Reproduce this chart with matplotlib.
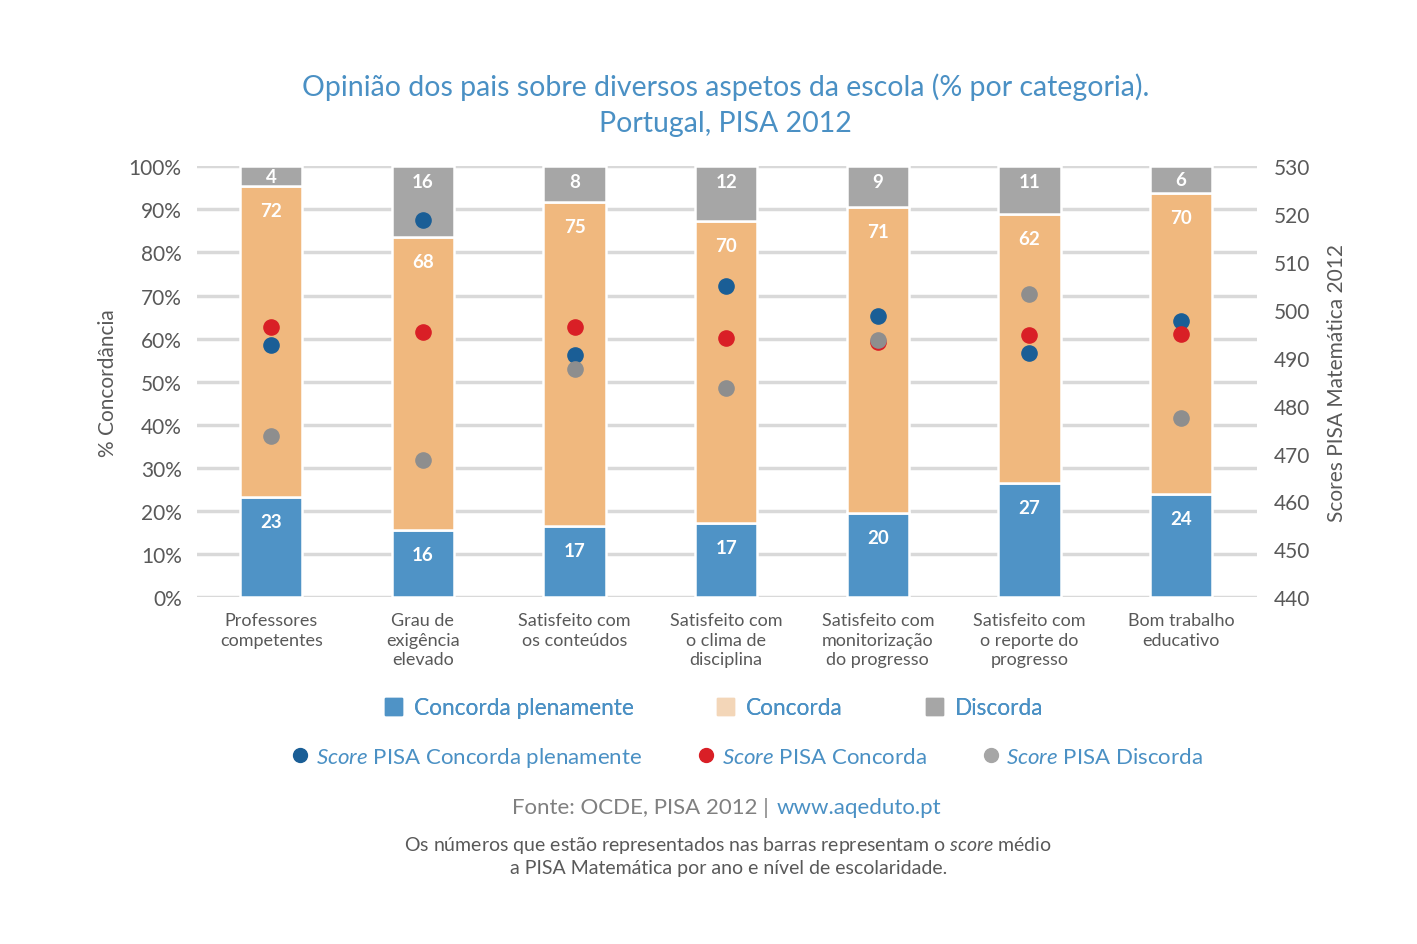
import matplotlib.pyplot as plt
from matplotlib.lines import Line2D
from matplotlib.patches import Patch
import numpy as np

plt.rcParams['font.family'] = ['Lato', 'DejaVu Sans']
plt.rcParams['mathtext.fontset'] = 'custom'
plt.rcParams['mathtext.rm'] = 'Lato'
plt.rcParams['mathtext.it'] = 'Lato:italic'

# dados
categorias = ['Professores\ncompetentes', 'Grau de\nexigência\nelevado', 'Satisfeito com\nos conteúdos',
              'Satisfeito com\no clima de\ndisciplina', 'Satisfeito com\nmonitorização\ndo progresso',
              'Satisfeito com\no reporte do\nprogresso', 'Bom trabalho\neducativo']
concorda_plen = [23.2, 15.5, 16.5, 17.2, 19.5, 26.5, 23.9]
concorda = [72.2, 68.0, 75.1, 70.0, 71.0, 62.4, 69.8]
discorda = [4.6, 16.5, 8.4, 12.8, 9.5, 11.1, 6.3]
lab_plen = ['23', '16', '17', '17', '20', '27', '24']
lab_conc = ['72', '68', '75', '70', '71', '62', '70']
lab_disc = ['4', '16', '8', '12', '9', '11', '6']
score_plen = [492.6, 518.7, 490.5, 504.9, 498.7, 490.9, 497.6]
score_conc = [496.4, 495.3, 496.4, 494.1, 493.4, 494.7, 494.9]
score_disc = [473.6, 468.6, 487.6, 483.6, 493.7, 503.3, 477.4]

c_azul = '#4F93C6'
c_lar = '#F0B87E'
c_cinza = '#A6A6A6'
c_txt = '#595959'
c_tit = '#4A90C4'

fig = plt.figure(figsize=(14.17, 9.45), dpi=100)
ax = fig.add_axes([0.139, 0.367, 0.748, 0.456])
x = np.arange(len(categorias))
w = 0.41

b1 = ax.bar(x, concorda_plen, w, color=c_azul, edgecolor='white', linewidth=1.8, zorder=2)
b2 = ax.bar(x, concorda, w, bottom=concorda_plen, color=c_lar, edgecolor='white', linewidth=1.8, zorder=2)
base3 = np.array(concorda_plen) + np.array(concorda)
b3 = ax.bar(x, discorda, w, bottom=base3, color=c_cinza, edgecolor='white', linewidth=1.8, zorder=2)

for i in range(len(x)):
    ax.text(x[i], concorda_plen[i] - 5.6, lab_plen[i], ha='center', va='center',
            color='white', fontsize=13.5, fontweight='bold', zorder=3)
    ax.text(x[i], base3[i] - 5.6, lab_conc[i], ha='center', va='center',
            color='white', fontsize=13.5, fontweight='bold', zorder=3)
    topo = base3[i] + discorda[i]
    yy = max(base3[i] + discorda[i] / 2, topo - 3.5)
    ax.text(x[i], yy, lab_disc[i], ha='center', va='center',
            color='white', fontsize=13.5, fontweight='bold', zorder=3)

ax.set_xlim(-0.49, 6.5)
ax.set_ylim(0, 100)
ax.set_yticks(range(0, 101, 10))
ax.set_yticklabels([f'{v}%' for v in range(0, 101, 10)])
ax.set_xticks(x)
ax.set_xticklabels(categorias, fontsize=13, color=c_txt, linespacing=1.25)
ax.tick_params(axis='x', length=0, pad=11)
ax.tick_params(axis='y', length=0, pad=11, labelsize=15, labelcolor=c_txt)
ax.grid(axis='y', color='#D9D9D9', linewidth=2.5, zorder=0)
ax.set_axisbelow(True)
for s in ax.spines.values():
    s.set_visible(False)
ax.set_ylabel('% Concordância', fontsize=15, color=c_txt, labelpad=8)

ax2 = ax.twinx()
ax2.set_ylim(440, 530)
ax2.set_yticks(range(440, 531, 10))
ax2.tick_params(axis='y', length=0, pad=12, labelsize=15, labelcolor=c_txt)
for s in ax2.spines.values():
    s.set_visible(False)
ax2.set_ylabel('Scores PISA Matemática 2012', fontsize=15, color=c_txt, labelpad=12)
ax2.scatter(x, score_plen, s=120, color='#1A5E96', zorder=4)
ax2.scatter(x, score_conc, s=120, color='#D91F26', zorder=4)
ax2.scatter(x, score_disc, s=120, color='#8E8E8E', zorder=4)

fig.text(0.512, 1 - 105 / 945, 'Opinião dos pais sobre diversos aspetos da escola (% por categoria).\nPortugal, PISA 2012',
         ha='center', va='center', fontsize=20.5, color=c_tit, linespacing=1.5)

h1 = [Patch(color=c_azul), Patch(color='#F3D6B8'), Patch(color=c_cinza)]
l1 = ['Concorda plenamente', 'Concorda', 'Discorda']
leg1 = fig.legend(h1, l1, loc='center', bbox_to_anchor=(0.504, 0.250), ncol=3, frameon=False,
                  fontsize=16.3, labelcolor=c_tit, handlelength=0.75, handleheight=0.75,
                  handletextpad=0.5, columnspacing=3.7)
fig.add_artist(leg1)
h2 = [Line2D([], [], marker='o', ls='', color='#1A5E96', markersize=10),
      Line2D([], [], marker='o', ls='', color='#D91F26', markersize=10),
      Line2D([], [], marker='o', ls='', color='#A6A6A6', markersize=10)]
l2 = [r'$\mathit{Score}$ PISA Concorda plenamente', r'$\mathit{Score}$ PISA Concorda',
      r'$\mathit{Score}$ PISA Discorda']
fig.legend(h2, l2, loc='center', bbox_to_anchor=(0.528, 0.198), ncol=3, frameon=False,
           fontsize=16, labelcolor=c_tit, handlelength=0.6, handletextpad=0.4, columnspacing=2.6)

fig.text(769 / 1417, 1 - 808 / 945, 'Fonte: OCDE, PISA 2012 |', ha='right', va='center',
         fontsize=16, color='#808080')
fig.text(777 / 1417, 1 - 808 / 945, 'www.aqeduto.pt', ha='left', va='center',
         fontsize=16, color=c_tit)
fig.text(0.514, 1 - 856 / 945,
         'Os números que estão representados nas barras representam o $\\mathit{score}$ médio\n'
         'a PISA Matemática por ano e nível de escolaridade.',
         ha='center', va='center', fontsize=14, color=c_txt, linespacing=1.35)

fig.savefig('out.png', dpi=100)
